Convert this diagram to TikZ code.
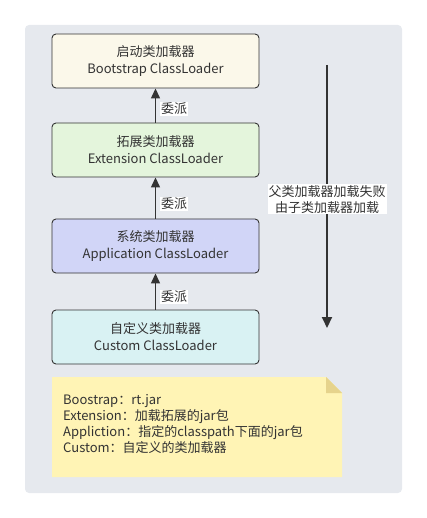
\documentclass[tikz,border=0pt]{standalone}
\usepackage{fontspec}
\setmainfont{Noto Sans CJK SC}
\usetikzlibrary{arrows.meta,positioning}
\definecolor{bgc}{HTML}{E6E9EE}
\definecolor{c1}{HTML}{FBF8EA}
\definecolor{c2}{HTML}{E4F5DC}
\definecolor{c3}{HTML}{D1D5F7}
\definecolor{c4}{HTML}{D9F2F3}
\definecolor{notec}{HTML}{FFF4B5}
\definecolor{foldc}{HTML}{E6D38C}
\definecolor{ln}{HTML}{333333}
\tikzset{
  loader/.style={draw=ln, line width=0.9pt, rounded corners=4pt, minimum width=207pt, minimum height=54pt, align=center, font=\fontsize{13}{17}\selectfont, text=ln},
  deleg/.style={draw=ln, line width=1.3pt, -{Triangle[length=10pt,width=9pt]}},
  dlabel/.style={fill=white, inner sep=1pt, font=\fontsize{13}{15}\selectfont, text=ln},
}
\begin{document}
\begin{tikzpicture}[x=1pt,y=-1pt]
\useasboundingbox (0,0) rectangle (426,518);
\fill[bgc, rounded corners=4pt] (25,25) rectangle (402,493);
\node[loader, fill=c1] (boot) at (155.5,61) {启动类加载器\\Bootstrap ClassLoader};
\node[loader, fill=c2] (ext) at (155.5,150) {拓展类加载器\\Extension ClassLoader};
\node[loader, fill=c3] (app) at (155.5,246) {系统类加载器\\Application ClassLoader};
\node[loader, fill=c4] (cust) at (155.5,337) {自定义类加载器\\Custom ClassLoader};
\draw[deleg] (ext.north) -- (boot.south);
\draw[deleg] (app.north) -- (ext.south);
\draw[deleg] (cust.north) -- (app.south);
\node[dlabel, anchor=west] (l1) at (160,109) {委派};
\node[dlabel, anchor=west] (l2) at (160,204) {委派};
\node[dlabel, anchor=west] (l3) at (160,297) {委派};
\coordinate (rtop) at (327,65);
\coordinate (rbot) at (327,328);
\draw[draw=ln, line width=2pt, -{Triangle[length=11pt,width=10pt]}] (rtop) -- (rbot);
\node[dlabel, align=center, inner sep=1pt, font=\fontsize{13}{16}\selectfont] (fail) at (327,199.5) {父类加载器加载失败\\由子类加载器加载};
\fill[notec] (52,377) -- (326,377) -- (342,393) -- (342,477) -- (52,477) -- cycle;
\fill[foldc] (326,377) -- (342,393) -- (326,393) -- cycle;
\node[anchor=north west, align=left, inner sep=0pt, text=ln, font=\fontsize{13}{16}\selectfont] (note) at (63,394) {Boostrap：rt.jar\\Extension：加载拓展的jar包\\Appliction：指定的classpath下面的jar包\\Custom：自定义的类加载器};
\end{tikzpicture}
\end{document}
